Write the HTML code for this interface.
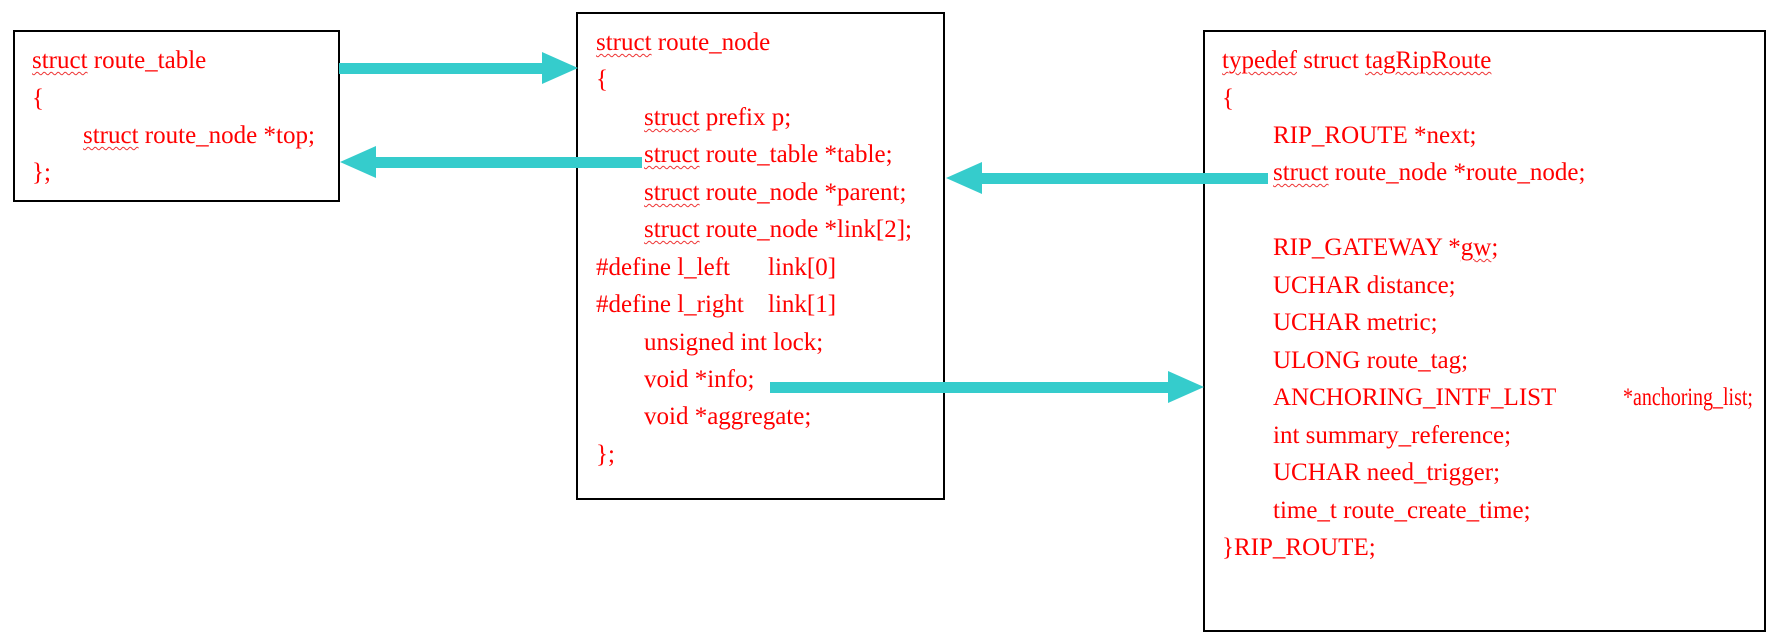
<!DOCTYPE html>
<html><head><meta charset="utf-8"><style>
body{margin:0;width:1779px;height:638px;background:#fff;position:relative;overflow:hidden;font-family:"Liberation Serif",serif;}
.box{position:absolute;border:2px solid #000;box-sizing:border-box;}
.t{position:absolute;color:#f00;font-size:25px;line-height:26px;white-space:pre;letter-spacing:0px;}
u{text-decoration:underline wavy #e33;text-decoration-thickness:1px;text-underline-offset:3px;}
svg{position:absolute;left:0;top:0}
</style></head><body>
<div class="box" style="left:13px;top:30px;width:327px;height:172px"></div>
<div class="box" style="left:576px;top:12px;width:369px;height:488px"></div>
<div class="box" style="left:1203px;top:30px;width:563px;height:602px"></div>

<div class="t" style="left:32px;top:48px"><u>struct</u> route_table</div>
<div class="t" style="left:32px;top:86px">{</div>
<div class="t" style="left:83px;top:123px"><u>struct</u> route_node *top;</div>
<div class="t" style="left:32px;top:160px">};</div>

<div class="t" style="left:596px;top:30px"><u>struct</u> route_node</div>
<div class="t" style="left:596px;top:67px">{</div>
<div class="t" style="left:644px;top:105px"><u>struct</u> prefix p;</div>
<div class="t" style="left:644px;top:142px"><u>struct</u> route_table *table;</div>
<div class="t" style="left:644px;top:180px"><u>struct</u> route_node *parent;</div>
<div class="t" style="left:644px;top:217px"><u>struct</u> route_node *link[2];</div>
<div class="t" style="left:596px;top:255px">#define l_left</div><div class="t" style="left:768px;top:255px">link[0]</div>
<div class="t" style="left:596px;top:292px">#define l_right</div><div class="t" style="left:768px;top:292px">link[1]</div>
<div class="t" style="left:644px;top:330px">unsigned int lock;</div>
<div class="t" style="left:644px;top:367px">void *info;</div>
<div class="t" style="left:644px;top:404px">void *aggregate;</div>
<div class="t" style="left:596px;top:442px">};</div>

<div class="t" style="left:1222px;top:48px"><u>typedef</u> struct <u>tagRipRoute</u></div>
<div class="t" style="left:1222px;top:86px">{</div>
<div class="t" style="left:1273px;top:123px">RIP_ROUTE *next;</div>
<div class="t" style="left:1273px;top:160px"><u>struct</u> route_node *route_node;</div>
<div class="t" style="left:1273px;top:235px">RIP_GATEWAY *<u>gw</u>;</div>
<div class="t" style="left:1273px;top:273px">UCHAR distance;</div>
<div class="t" style="left:1273px;top:310px">UCHAR metric;</div>
<div class="t" style="left:1273px;top:348px">ULONG route_tag;</div>
<div class="t" style="left:1273px;top:385px">ANCHORING_INTF_LIST</div><div class="t" style="left:1623px;top:385px;transform:scaleX(0.8);transform-origin:left">*anchoring_list;</div>
<div class="t" style="left:1273px;top:423px">int summary_reference;</div>
<div class="t" style="left:1273px;top:460px">UCHAR need_trigger;</div>
<div class="t" style="left:1273px;top:498px">time_t route_create_time;</div>
<div class="t" style="left:1222px;top:535px">}RIP_ROUTE;</div>

<svg width="1779" height="638">
<g fill="#35cccc">
<rect x="339" y="63" width="205" height="11"/><polygon points="542,52 578,68 542,84"/>
<rect x="374" y="157" width="268" height="11"/><polygon points="376,146 340,162 376,178"/>
<rect x="980" y="173" width="288" height="11"/><polygon points="982,162 946,178 982,194"/>
<rect x="770" y="382" width="400" height="11"/><polygon points="1168,371 1204,387 1168,403"/>
</g>
</svg>
</body></html>
